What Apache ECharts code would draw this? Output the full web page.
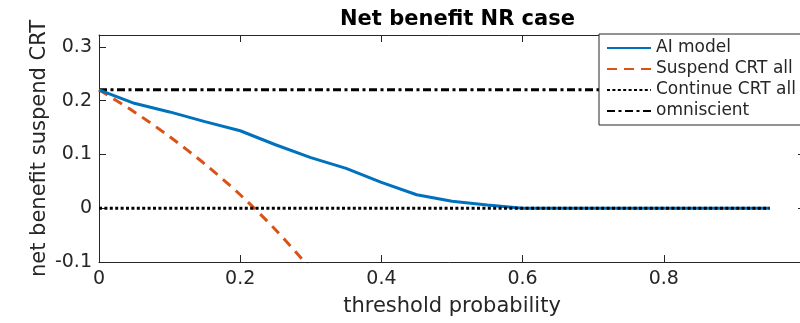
<!DOCTYPE html>
<html>
<head>
<meta charset="utf-8">
<script src="https://cdn.jsdelivr.net/npm/echarts@6/dist/echarts.min.js"></script>
<style>
  html, body { margin: 0; padding: 0; background: #fff; }
  #chart { width: 800px; height: 323px; }
</style>
</head>
<body>
<div id="chart"></div>
<script>
// Threshold probabilities (x) and net benefit of suspending CRT for each strategy
const thresholds = [0, 0.05, 0.1, 0.15, 0.2, 0.25, 0.3, 0.35, 0.4, 0.45, 0.5,
                    0.55, 0.6, 0.65, 0.7, 0.75, 0.8, 0.85, 0.9, 0.95];
const aiModel = [0.22, 0.195, 0.179, 0.161, 0.144, 0.118, 0.094, 0.074, 0.048, 0.025, 0.013,
                 0.006, 0, 0, 0, 0, 0, 0, 0, 0];
const suspendAll = [0.22, 0.179, 0.133, 0.082, 0.025, -0.04, -0.114, -0.2];
const continueAll = [0, 0, 0, 0, 0, 0, 0, 0, 0, 0, 0, 0, 0, 0, 0, 0, 0, 0, 0, 0];
const omniscient = [0.22, 0.22, 0.22, 0.22, 0.22, 0.22, 0.22, 0.22, 0.22, 0.22, 0.22,
                    0.22, 0.22, 0.22, 0.22, 0.22, 0.22, 0.22, 0.22, 0.22];
const seriesNames = ['AI model', 'Suspend CRT all', 'Continue CRT all', 'omniscient'];

const pairs = (ys) => ys.map((y, i) => [thresholds[i], y]);

const axisColor = '#262626';
const font = 'DejaVu Sans';

// Box-style axes: thin dark frame with short inward ticks
const boxAxis = {
  axisLine: { show: true, onZero: false, lineStyle: { color: axisColor, width: 1 } },
  axisTick: { show: true, inside: true, length: 7, lineStyle: { color: axisColor, width: 1 } },
  splitLine: { show: false }
};

const chart = echarts.init(document.getElementById('chart'), null, { renderer: 'canvas' });
chart.setOption({
  animation: false,
  backgroundColor: '#ffffff',
  title: {
    text: 'Net benefit NR case',
    left: 452.5,
    top: 4,
    textAlign: 'center',
    textStyle: { fontFamily: font, fontSize: 21, fontWeight: 'bold', color: '#000' }
  },
  grid: { left: 99, top: 35, width: 706, height: 227, containLabel: false, outerBoundsMode: 'none' },
  legend: {
    orient: 'vertical',
    left: 599,
    top: 34,
    data: seriesNames,
    itemWidth: 44,
    itemHeight: 14,
    itemGap: 4,
    padding: [5.5, 8, 5.5, 7],
    borderColor: axisColor,
    borderWidth: 1,
    backgroundColor: '#ffffff',
    itemStyle: { opacity: 0 },
    textStyle: { fontFamily: font, fontSize: 17, color: axisColor, lineHeight: 17 }
  },
  xAxis: [
    Object.assign({
      type: 'value', min: 0, max: 1, interval: 0.2, position: 'bottom',
      name: 'threshold probability', nameLocation: 'middle', nameGap: 34, nameMoveOverlap: false,
      nameTextStyle: { fontFamily: font, fontSize: 21, color: axisColor },
      axisLabel: { fontFamily: font, fontSize: 19, color: axisColor, margin: 8 }
    }, boxAxis),
    Object.assign({
      type: 'value', min: 0, max: 1, interval: 0.2, position: 'top',
      axisLabel: { show: false }
    }, boxAxis)
  ],
  yAxis: [
    Object.assign({
      type: 'value', min: -0.1, max: 0.322, interval: 0.1, position: 'left',
      name: 'net benefit suspend CRT', nameLocation: 'middle', nameGap: 49, nameMoveOverlap: false,
      nameTextStyle: { fontFamily: font, fontSize: 21, color: axisColor },
      axisLabel: { fontFamily: font, fontSize: 19, color: axisColor, margin: 7, showMaxLabel: false }
    }, boxAxis),
    Object.assign({
      type: 'value', min: -0.1, max: 0.322, interval: 0.1, position: 'right',
      axisLabel: { show: false }
    }, boxAxis)
  ],
  series: [
    {
      name: seriesNames[0], type: 'line', data: pairs(aiModel), symbol: 'none', z: 4,
      itemStyle: { color: '#0072BD' },
      lineStyle: { color: '#0072BD', width: 3 }
    },
    {
      name: seriesNames[1], type: 'line', data: pairs(suspendAll), symbol: 'none', smooth: 0.3, z: 3,
      itemStyle: { color: '#D95319' },
      lineStyle: { color: '#D95319', width: 3, type: [10, 7] }
    },
    {
      name: seriesNames[2], type: 'line', data: pairs(continueAll), symbol: 'none', z: 5,
      itemStyle: { color: '#000' },
      lineStyle: { color: '#000', width: 3, type: [3, 2.4] }
    },
    {
      name: seriesNames[3], type: 'line', data: pairs(omniscient), symbol: 'none', z: 2,
      itemStyle: { color: '#000' },
      lineStyle: { color: '#000', width: 3, type: [8, 3.5, 3, 3.5] }
    }
  ]
});
</script>
</body>
</html>
